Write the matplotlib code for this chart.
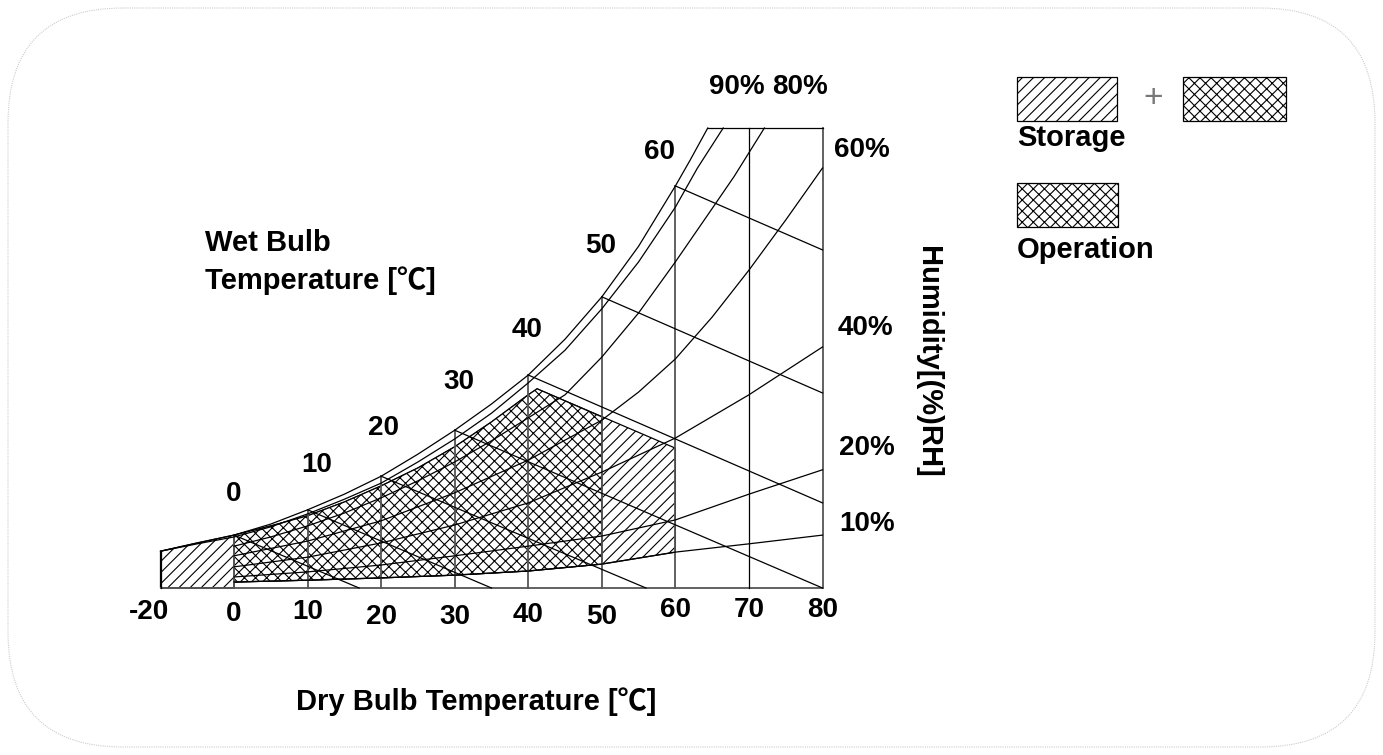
import numpy as np
import matplotlib
matplotlib.use("Agg")
import matplotlib.pyplot as plt
from matplotlib.patches import Polygon, Rectangle, FancyBboxPatch

plt.rcParams['font.family'] = ['Liberation Sans', 'Noto Sans CJK SC', 'DejaVu Sans']
plt.rcParams['hatch.linewidth'] = 0.8

# dry bulb temperature [C] vs. chart height (0 = bottom line, 100 = top line)
sat_t = [-20, -10, 0, 5, 10, 15, 20, 25, 30, 35, 40, 45, 50, 55, 60, 62, 64.4]
sat_h = [8.0, 9.8, 11.5, 13.9, 17.0, 20.4, 24.3, 29.1, 34.3, 40.0, 46.3, 54.1, 63.3, 74.3, 87.4, 93.0, 100]

rh90_t = [-20, -10, 0, 5, 10, 15, 20, 25, 30, 35, 40, 45, 50, 55, 60, 63, 66.5]
rh90_h = [8.0, 9.6, 11.1, 13.3, 16.1, 19.3, 22.8, 27.4, 32.4, 38.0, 44.6, 51.7, 60.7, 70.9, 82.8, 91.3, 100]

rh80_t = [0, 5, 10, 15, 20, 25, 30, 35, 40, 45, 50, 55, 60, 65, 68, 72.1]
rh80_h = [9.1, 11.1, 13.5, 16.3, 19.6, 23.3, 27.4, 32.0, 37.0, 42.0, 50.2, 59.8, 70.9, 82.5, 89.5, 100]

rh60_t = [0, 10, 20, 30, 40, 50, 55, 60, 65, 70, 75, 80]
rh60_h = [7.0, 10.2, 14.6, 20.7, 27.8, 36.5, 42.6, 49.8, 58.9, 69.1, 80.0, 91.3]

rh_t = [0, 10, 20, 30, 40, 50, 60, 70, 80]
rh40_h = [4.6, 6.7, 9.8, 13.7, 18.5, 25.2, 32.6, 42.0, 52.4]
rh20_h = [2.4, 3.5, 5.0, 7.0, 9.1, 11.3, 14.8, 20.4, 25.7]
rh10_h = [1.3, 1.7, 2.2, 2.8, 3.7, 5.2, 7.8, 9.6, 11.5]

# wet bulb lines: start on saturation curve, end on bottom / right border
wb_t = [0, 10, 20, 30, 40, 50, 60]
wb_end_t = [17, 35, 56, 80, 80, 80, 80]
wb_end_h = [0, 0, 0, 0, 18.5, 42.4, 73.5]

# operation / storage areas
op_top_t = [0, 5, 10, 15, 20, 25, 30, 35, 40, 41.2]
op_top_h = [11.5, 13.5, 15.7, 18.7, 22.2, 26.1, 30.7, 36.1, 42.0, 43.3]
op_max_t, op_corner_h = 50, 37.2
st_max_t, st_corner_h = 60, 30.4
st_min_t = -20

xticks = [-20, 0, 10, 20, 30, 40, 50, 60, 70, 80]
rh_labels = ["90%", "80%", "60%", "40%", "20%", "10%"]


def fwd(t):
    t = np.asarray(t, dtype=float)
    return np.where(t < 0, t / 2, t)


def inv(u):
    u = np.asarray(u, dtype=float)
    return np.where(u < 0, u * 2, u)


fig = plt.figure(figsize=(13.83, 7.55), dpi=100)

# page frame + free text in pixel coordinates
bg = fig.add_axes([0, 0, 1, 1])
bg.set_xlim(0, 1383)
bg.set_ylim(755, 0)
bg.axis("off")
bg.add_patch(FancyBboxPatch((8, 8), 1367, 739, boxstyle="round,pad=0,rounding_size=115",
                            ec="#cccccc", fc="none", lw=0.8, ls=(0, (1, 1))))

ax = fig.add_axes([160.5 / 1383, 1 - 588 / 755, 662 / 1383, 460 / 755])
ax.set_xscale("function", functions=(fwd, inv))
ax.set_xlim(-20, 80)
ax.set_ylim(0, 100)
ax.axis("off")

lk = dict(color="black", lw=0.9, clip_on=False, zorder=5)
vk = dict(color="#555555", lw=1.3, clip_on=False, zorder=5)

# hatched areas
rh10_back_t = [t for t in rh_t if t <= op_max_t][::-1]
rh10_back_h = [h for t, h in zip(rh_t, rh10_h) if t <= op_max_t][::-1]
storage = ([(st_min_t, 0), (st_min_t, sat_h[0]), (sat_t[1], sat_h[1])]
           + list(zip(op_top_t, op_top_h))
           + [(st_max_t, st_corner_h), (st_max_t, np.interp(st_max_t, rh_t, rh10_h))]
           + list(zip(rh10_back_t, rh10_back_h)) + [(0, 0)])
ax.add_patch(Polygon(storage, closed=True, fc="white", ec="black", lw=0.9,
                     hatch="///", zorder=2, clip_on=False))
operation = (list(zip(op_top_t, op_top_h)) + [(op_max_t, op_corner_h)]
             + list(zip(rh10_back_t, rh10_back_h)))
ax.add_patch(Polygon(operation, closed=True, fc="white", ec="black", lw=0.9,
                     hatch="xxx", zorder=3, clip_on=False))

# frame of the chart
ax.plot([-20, 80], [0, 0], **vk)
ax.plot([80, 80], [0, 100], **vk)
ax.plot([sat_t[-1], 80], [100, 100], **lk)
ax.plot([-20, -20], [0, sat_h[0]], **lk)
ax.plot([70, 70], [0, 100], **lk)
for t in range(0, 61, 10):
    ax.plot([t, t], [0, np.interp(t, sat_t, sat_h)], **vk)

# relative humidity curves
ax.plot(sat_t, sat_h, **lk)
ax.plot(rh90_t, rh90_h, **lk)
ax.plot(rh80_t, rh80_h, **lk)
ax.plot(rh60_t, rh60_h, **lk)
ax.plot(rh_t, rh40_h, **lk)
ax.plot(rh_t, rh20_h, **lk)
ax.plot(rh_t, rh10_h, **lk)

# wet bulb lines
for t, te, he in zip(wb_t, wb_end_t, wb_end_h):
    ax.plot([t, te], [np.interp(t, sat_t, sat_h), he], **lk)

# labels
bold = dict(fontweight="bold", ha="center", va="center", clip_on=False)
tick_dy = [5.3, 5.7, 5.3, 6.2, 6.2, 5.9, 6.2, 4.8, 4.8, 4.8]
for t, dy in zip(xticks, tick_dy):
    ax.text(t - 3 if t < 0 else t, -dy, str(t), fontsize=20, **bold)

wb_lab_t = [0, 11.2, 20.3, 30.6, 39.9, 49.8, 57.8]
wb_lab_h = [20.4, 26.7, 34.8, 44.8, 56.1, 74.3, 94.8]
for t, x, y in zip(wb_t, wb_lab_t, wb_lab_h):
    ax.text(x, y, str(t), fontsize=20, **bold)

rh_lab_t = [68.3, 76.9, 85.4, 85.9, 86.1, 86.0]
rh_lab_h = [108.9, 108.9, 95.2, 56.5, 30.4, 13.9]
for s, x, y in zip(rh_labels, rh_lab_t, rh_lab_h):
    ax.text(x, y, s, fontsize=20, **bold)

bg.text(205, 243, "Wet Bulb", fontsize=21, fontweight="bold", ha="left", va="center")
bg.text(205, 281, "Temperature [℃]", fontsize=21, fontweight="bold", ha="left", va="center")
bg.text(476, 702, "Dry Bulb Temperature [℃]", fontsize=21, fontweight="bold", ha="center", va="center")
bg.text(928, 362, "Humidity[(%)RH]", fontsize=21, fontweight="bold", ha="center", va="center",
        rotation=270)

# legend
bg.add_patch(Rectangle((1017, 77), 100, 44, fc="white", ec="black", lw=0.9, hatch="///"))
bg.add_patch(Rectangle((1183, 77), 103, 44, fc="white", ec="black", lw=0.9, hatch="xxx"))
bg.add_patch(Rectangle((1017, 183), 101, 44, fc="white", ec="black", lw=0.9, hatch="xxx"))
bg.text(1153, 98, "+", fontsize=24, color="#777777", ha="center", va="center")
bg.text(1017, 138, "Storage", fontsize=21, fontweight="bold", ha="left", va="center")
bg.text(1017, 250, "Operation", fontsize=21, fontweight="bold", ha="left", va="center")

fig.savefig("out.png", dpi=100)
